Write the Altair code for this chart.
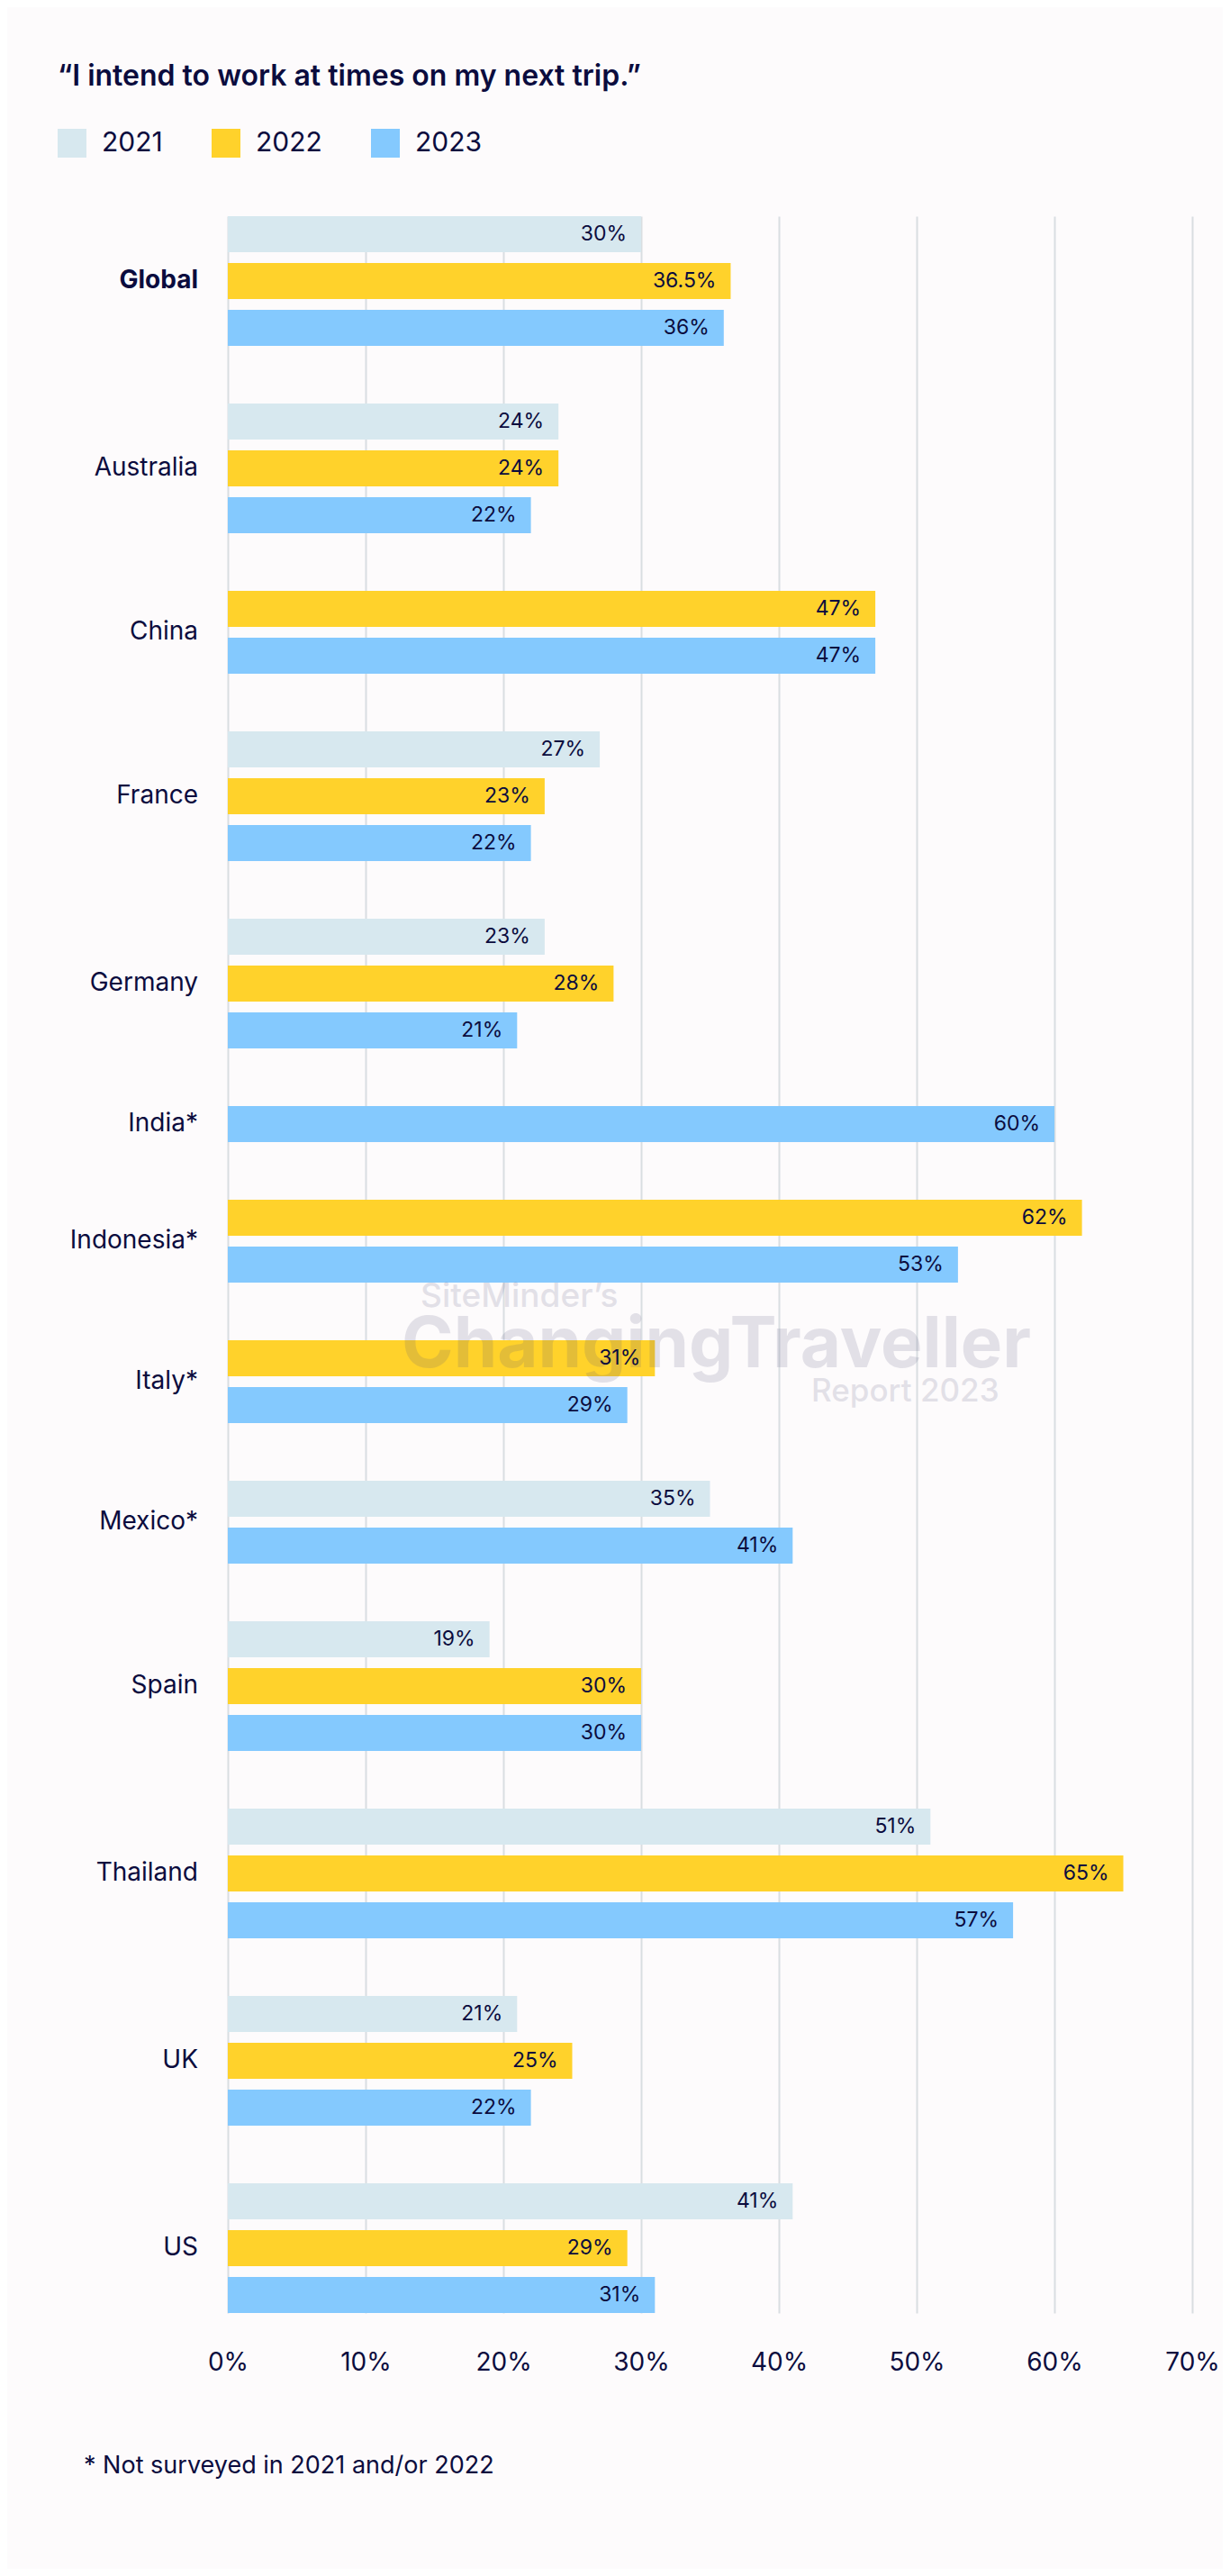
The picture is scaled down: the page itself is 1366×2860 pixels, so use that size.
import altair as alt
import pandas as pd

# ---------------- data ----------------
categories = ["Global", "Australia", "China", "France", "Germany", "India*", "Indonesia*",
              "Italy*", "Mexico*", "Spain", "Thailand", "UK", "US"]
v2021 = [30, 24, None, 27, 23, None, None, None, 35, 19, 51, 21, 41]
v2022 = [36.5, 24, 47, 23, 28, None, 62, 31, None, 30, 65, 25, 29]
v2023 = [36, 22, 47, 22, 21, 60, 53, 29, 41, 30, 57, 22, 31]
years = ["2021", "2022", "2023"]
year_colors = ["#d7e8ef", "#ffd22b", "#84c9fe"]
x_ticks = [0, 10, 20, 30, 40, 50, 60, 70]
title_text = "\u201cI intend to work at times on my next trip.\u201d"
footnote_text = "* Not surveyed in 2021 and/or 2022"
watermark_lines = ["SiteMinder\u2019s", "ChangingTraveller", "Report 2023"]

NAVY = "#0b0c3e"
FONT = "Inter"
BAR = 0.77  # bar thickness as a share of one row slot

# ---------------- build tables ----------------
rows, label_rows = [], []
slot = 0
for i, cat in enumerate(categories):
    centers = []
    for yr, series in zip(years, [v2021, v2022, v2023]):
        v = series[i]
        if v is None:
            continue
        rows.append(dict(category=cat, year=yr, value=v, top=slot, bottom=slot + BAR,
                         mid=slot + BAR / 2, label=f"{v:g}%"))
        centers.append(slot + BAR / 2)
        slot += 1
    label_rows.append(dict(category=cat, mid=sum(centers) / len(centers)))
    slot += 1
ymax = slot - 2 + BAR

df = pd.DataFrame(rows)
labels_df = pd.DataFrame(label_rows)

yscale = alt.Scale(domain=[0, ymax], reverse=True, nice=False, zero=False)
xscale = alt.Scale(domain=[0, 70], nice=False, zero=True)

bars = alt.Chart(df).mark_bar().encode(
    x=alt.X("value:Q", scale=xscale,
            axis=alt.Axis(values=x_ticks, labelExpr="datum.value + '%'", grid=True,
                          domain=False, ticks=False, tickSize=0, labelPadding=55,
                          labelFlush=False, labelBaseline="middle", labelFontSize=28,
                          labelFont=FONT, labelColor=NAVY, gridColor="#d9dee1",
                          gridWidth=2, title=None)),
    x2=alt.datum(0),
    y=alt.Y("top:Q", scale=yscale, axis=None),
    y2="bottom:Q",
    color=alt.Color("year:N", scale=alt.Scale(domain=years, range=year_colors),
                    legend=alt.Legend(title=None, orient="none", legendX=-189, legendY=-97,
                                      direction="horizontal", symbolType="square",
                                      symbolSize=1024, symbolStrokeWidth=0, symbolOpacity=1,
                                      labelFontSize=30, labelFont=FONT, labelColor=NAVY,
                                      labelOffset=17, columnPadding=54, padding=0)),
)

values = alt.Chart(df).mark_text(align="right", baseline="middle", dx=-16, fontSize=23,
                                 font=FONT, color=NAVY).encode(
    x=alt.X("value:Q", scale=xscale),
    y=alt.Y("mid:Q", scale=yscale),
    text="label:N",
)

cat_labels = alt.Chart(labels_df).transform_filter("datum.category != 'Global'").mark_text(
    align="right", baseline="middle", fontSize=28, font=FONT, color=NAVY).encode(
    x=alt.value(-33), y=alt.Y("mid:Q", scale=yscale), text="category:N")

global_label = alt.Chart(labels_df).transform_filter("datum.category == 'Global'").mark_text(
    align="right", baseline="middle", fontSize=28, font=FONT, fontWeight="bold",
    color=NAVY).encode(
    x=alt.value(-33), y=alt.Y("mid:Q", scale=yscale), text="category:N")

title = alt.Chart(pd.DataFrame({"t": [title_text]})).mark_text(
    align="left", baseline="middle", fontSize=32, fontWeight=600, font=FONT, color=NAVY).encode(
    x=alt.value(-189), y=alt.value(-155), text="t:N")

footnote = alt.Chart(pd.DataFrame({"t": [footnote_text]})).mark_text(
    align="left", baseline="middle", fontSize=27, font=FONT, color=NAVY).encode(
    x=alt.value(-160), y=alt.value(2498), text="t:N")

wm_color = "#5a5880"
wm1 = alt.Chart(pd.DataFrame({"t": [watermark_lines[0]]})).mark_text(
    align="left", baseline="middle", fontSize=37, font=FONT, fontWeight=500, color=wm_color,
    opacity=0.16).encode(x=alt.value(214), y=alt.value(1200), text="t:N")
wm2 = alt.Chart(pd.DataFrame({"t": [watermark_lines[1]]})).mark_text(
    align="left", baseline="middle", fontSize=78, font=FONT, fontWeight="bold",
    color=wm_color, opacity=0.16).encode(
    x=alt.value(193), y=alt.value(1255), text="t:N")
wm3 = alt.Chart(pd.DataFrame({"t": [watermark_lines[2]]})).mark_text(
    align="left", baseline="middle", fontSize=35, font=FONT, fontWeight=500, color=wm_color,
    opacity=0.16).encode(x=alt.value(648), y=alt.value(1305), text="t:N")

chart = alt.layer(bars, wm1, wm2, wm3, values, cat_labels, global_label, title, footnote).properties(
    width=1071, height=2328,
    padding={"left": 245, "top": 232, "right": 34, "bottom": 284},
    autosize=alt.AutoSizeParams(type="none"),
    background="#fdfbfc",
).configure_view(stroke=None)

chart.save("out.html", embed_options={"renderer": "svg", "actions": False})
